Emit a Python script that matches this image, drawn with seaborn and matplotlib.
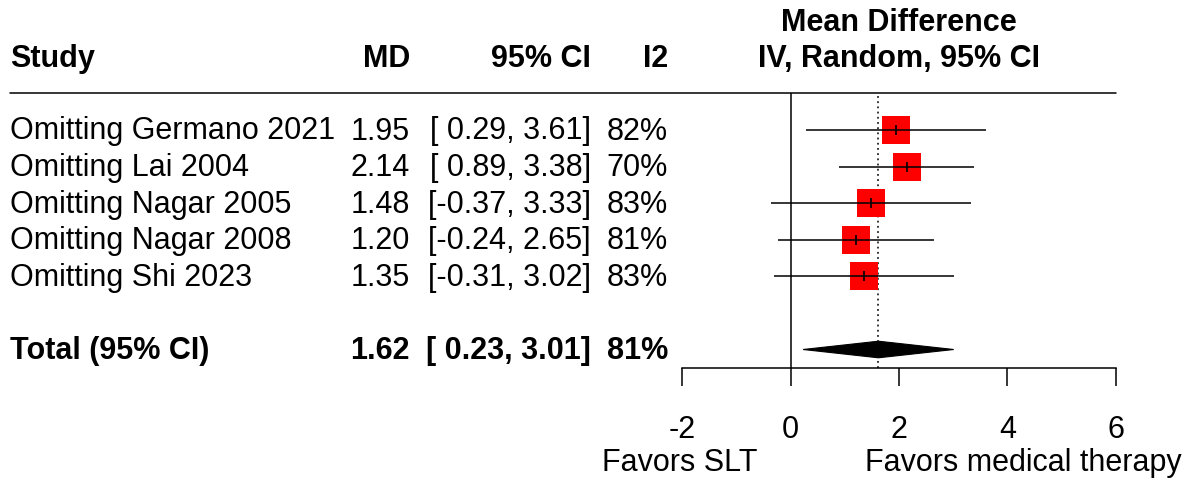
import numpy as np
import pandas as pd
import matplotlib
matplotlib.use("Agg")
import matplotlib.pyplot as plt
import seaborn as sns
from matplotlib.patches import Polygon

# ---- data ----
studies = ["Omitting Germano 2021", "Omitting Lai 2004", "Omitting Nagar 2005",
           "Omitting Nagar 2008", "Omitting Shi 2023"]
md = [1.95, 2.14, 1.48, 1.20, 1.35]
lower = [0.29, 0.89, -0.37, -0.24, -0.31]
upper = [3.61, 3.38, 3.33, 2.65, 3.02]
i2 = [82, 70, 83, 81, 83]
total_label = "Total (95% CI)"
total_md = 1.62
total_lower = 0.23
total_upper = 3.01
total_i2 = 81
xticks = [-2, 0, 2, 4, 6]
left_label = "Favors SLT"
right_label = "Favors medical therapy"

sns.set_theme(style="white")
plt.rcParams['font.family'] = ['Liberation Sans', 'DejaVu Sans']
plt.rcParams['text.color'] = 'black'
plt.rcParams['xtick.color'] = 'black'
plt.rcParams['axes.labelcolor'] = 'black'

W, H = 1195, 479
FS = 22
fig = plt.figure(figsize=(W / 100, H / 100), dpi=100)
bg = fig.add_axes([0, 0, 1, 1])
bg.set_xlim(0, W)
bg.set_ylim(H, 0)
bg.axis('off')

x0, x1 = 682.3, 1115.7
ytop, ybot = 93, 368.3
ax = fig.add_axes([x0 / W, 1 - ybot / H, (x1 - x0) / W, (ybot - ytop) / H])
ax.set_xlim(-2, 6)
ax.set_ylim(ybot, ytop)
ax.patch.set_alpha(0)
for s in ['top', 'left', 'right']:
    ax.spines[s].set_visible(False)
ax.spines['bottom'].set_linewidth(1.1)
ax.spines['bottom'].set_color('black')
ax.set_xticks(xticks)
ax.set_xticklabels([str(t) for t in xticks])
ax.set_yticks([])
ax.tick_params(axis='x', direction='out', length=13.3, width=1.1, color='black',
               labelsize=FS, pad=20, labelcolor='black', bottom=True)

row_y = [130 + i * 36.6 for i in range(len(studies))]
tot_y = 349.5
dy = 1.5  # text baseline nudge

df = pd.DataFrame({"study": studies, "md": md, "lower": lower, "upper": upper, "y": row_y})

ax.axvline(0, color='black', lw=1.1, zorder=1)
ax.axvline(total_md, color='black', lw=1.1, ls=(0, (1.2, 2.2)), zorder=1)

sns.scatterplot(data=df, x="md", y="y", marker='s', s=410, color='red',
                linewidth=0, ax=ax, legend=False, zorder=3)
ax.hlines(df["y"], df["lower"], df["upper"], color='black', lw=1.1, zorder=4)
sns.scatterplot(data=df, x="md", y="y", marker='|', s=45, color='black',
                linewidth=1.2, ax=ax, legend=False, zorder=5)
ax.set_xlabel("")
ax.set_ylabel("")

dh = 8.3
diamond = Polygon([(total_lower, tot_y), (total_md, tot_y - dh), (total_upper, tot_y),
                   (total_md, tot_y + dh)], closed=True, facecolor='black',
                  edgecolor='black', lw=0.8, zorder=3)
ax.add_patch(diamond)

# top rule
bg.plot([10, x1], [93, 93], color='black', lw=1.1)

# headers
hy = 59
bg.text(10, hy, "Study", ha='left', va='center', fontsize=FS, fontweight='bold')
bg.text(410, hy, "MD", ha='right', va='center', fontsize=FS, fontweight='bold')
bg.text(591, hy, "95% CI", ha='right', va='center', fontsize=FS, fontweight='bold')
bg.text(668, hy, "I2", ha='right', va='center', fontsize=FS, fontweight='bold')
xc = (x0 + x1) / 2
bg.text(xc, 23, "Mean Difference", ha='center', va='center', fontsize=FS, fontweight='bold')
bg.text(xc, hy, "IV, Random, 95% CI", ha='center', va='center', fontsize=FS, fontweight='bold')

for s, m, lo, hi, h, y in zip(studies, md, lower, upper, i2, row_y):
    bg.text(10, y + dy, s, ha='left', va='center', fontsize=FS)
    bg.text(410, y + dy, f"{m:.2f}", ha='right', va='center', fontsize=FS)
    bg.text(591, y + dy, f"[{lo:5.2f}, {hi:.2f}]", ha='right', va='center', fontsize=FS)
    bg.text(668, y + dy, f"{h}%", ha='right', va='center', fontsize=FS)

bg.text(10, tot_y + dy, total_label, ha='left', va='center', fontsize=FS, fontweight='bold')
bg.text(410, tot_y + dy, f"{total_md:.2f}", ha='right', va='center', fontsize=FS, fontweight='bold')
bg.text(591, tot_y + dy, f"[{total_lower:5.2f}, {total_upper:.2f}]", ha='right', va='center',
        fontsize=FS, fontweight='bold')
bg.text(668, tot_y + dy, f"{total_i2}%", ha='right', va='center', fontsize=FS, fontweight='bold')

bg.text(680, 463, left_label, ha='center', va='center', fontsize=FS)
bg.text(1023, 463, right_label, ha='center', va='center', fontsize=FS)

fig.savefig("out.png", dpi=100)
